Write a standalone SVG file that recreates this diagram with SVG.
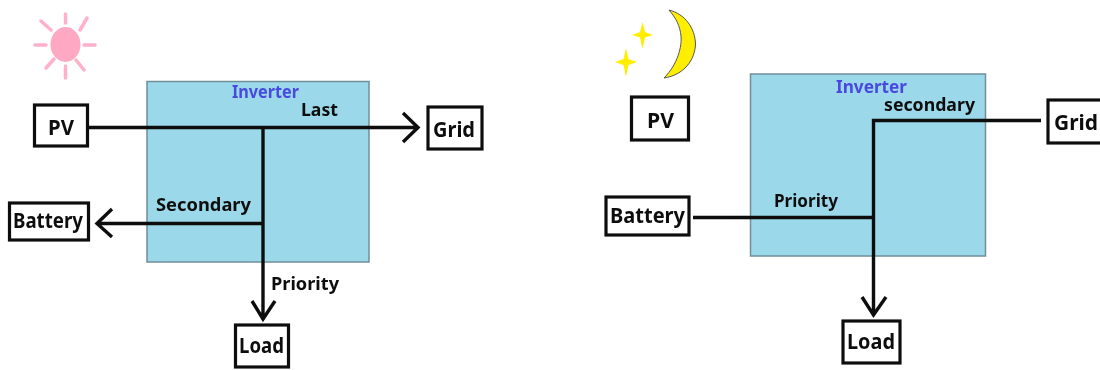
<svg xmlns="http://www.w3.org/2000/svg" width="1100" height="370" viewBox="0 0 1100 370">
<style>
text{font-family:"Noto Sans","DejaVu Sans",sans-serif;font-weight:700;fill:#111}
.inv{fill:#9ad8ea;stroke:#6f8f99;stroke-width:1.5}
.box{fill:#fff;stroke:#111;stroke-width:3.2}
.n{font-size:22px}
.l{font-size:18px}
.t{font-size:17px;fill:#4a4ae0}
.c{fill:none;stroke:#111;stroke-width:3.4;stroke-linejoin:miter}
.ray{stroke:#ffb0ca;stroke-width:3.5;stroke-linecap:round}
.star{fill:#ffee00}
</style>
<defs><filter id="soft" x="-5%" y="-5%" width="110%" height="110%"><feGaussianBlur stdDeviation="0.5"/></filter></defs>
<g filter="url(#soft)">
<g id="left-inverter"><rect class="inv" x="147" y="81.500" width="222" height="180.500"/><text class="t" x="232" y="98" textLength="67" lengthAdjust="spacingAndGlyphs">Inverter</text></g>
<g id="right-inverter"><rect class="inv" x="750.500" y="74" width="235" height="182"/><text class="t" x="836" y="93" textLength="71" lengthAdjust="spacingAndGlyphs">Inverter</text></g>
<g id="sun">
<ellipse cx="65.500" cy="44.500" rx="15" ry="17.500" fill="#ffa8c4"/>
<path class="ray" d="M65.500 14V23M65.500 66V78M35 45H46M84 45H95M41 21L51 30M87 18L80 30M46 68L54 59M84 70L76 60"/>
</g>
<g id="moon">
<path d="M669 10C685 14 695 28 695.500 44C695 60 684 75 664 78C678 64 682 46 681 36C680 26 676 18 669 10Z" fill="#ffee00" stroke="#555" stroke-width="1"/>
<path class="star" d="M642.500 22L645 32L653 35L645 37.500L642.500 49L640 37.500L632 35L640 32Z"/>
<path class="star" d="M626 48L628.500 59L637 62L628.500 65L626 77L623.500 65L615 62L623.500 59Z"/>
</g>
<g id="connectors">
<path class="c" d="M88 127.500H418M403 113L418 127.500L403 142"/>
<path class="c" d="M263 127.500V320M252 301L263 319L275 301"/>
<path class="c" d="M263 223.500H97M112 209L97 223.500L112 237"/>
<path class="c" d="M1041 120.500H873.500V315M862 297L873.500 315L886 297"/>
<path class="c" d="M693 217.500H873.500"/>
</g>
<g id="left-pv"><rect class="box" x="34.500" y="105" width="53" height="41"/><text class="n" x="48" y="135" textLength="26" lengthAdjust="spacingAndGlyphs">PV</text></g>
<g id="left-grid"><rect class="box" x="428" y="107" width="54" height="42"/><text class="n" x="433" y="137" textLength="42" lengthAdjust="spacingAndGlyphs">Grid</text></g>
<g id="left-battery"><rect class="box" x="9.500" y="203" width="79" height="37"/><text class="n" x="13" y="228" textLength="70" lengthAdjust="spacingAndGlyphs">Battery</text></g>
<g id="left-load"><rect class="box" x="235.500" y="325" width="53" height="42"/><text class="n" x="239" y="353" textLength="45" lengthAdjust="spacingAndGlyphs">Load</text></g>
<g id="right-pv"><rect class="box" x="631.500" y="97" width="57" height="43"/><text class="n" x="647" y="128" textLength="27" lengthAdjust="spacingAndGlyphs">PV</text></g>
<g id="right-grid"><rect class="box" x="1048" y="100" width="62" height="43"/><text class="n" x="1054" y="130" textLength="44" lengthAdjust="spacingAndGlyphs">Grid</text></g>
<g id="right-battery"><rect class="box" x="606" y="197" width="83" height="38"/><text class="n" x="610" y="223" textLength="75" lengthAdjust="spacingAndGlyphs">Battery</text></g>
<g id="right-load"><rect class="box" x="843" y="321" width="57" height="42"/><text class="n" x="847" y="349" textLength="48" lengthAdjust="spacingAndGlyphs">Load</text></g>
<g id="labels">
<text class="l" x="301" y="116" textLength="37" lengthAdjust="spacingAndGlyphs">Last</text>
<text class="l" x="156" y="211" textLength="95" lengthAdjust="spacingAndGlyphs">Secondary</text>
<text class="l" x="271" y="290" textLength="68" lengthAdjust="spacingAndGlyphs">Priority</text>
<text class="l" x="884" y="111" textLength="91" lengthAdjust="spacingAndGlyphs">secondary</text>
<text class="l" x="774" y="207" textLength="64" lengthAdjust="spacingAndGlyphs">Priority</text>
</g>
</g>
</svg>
